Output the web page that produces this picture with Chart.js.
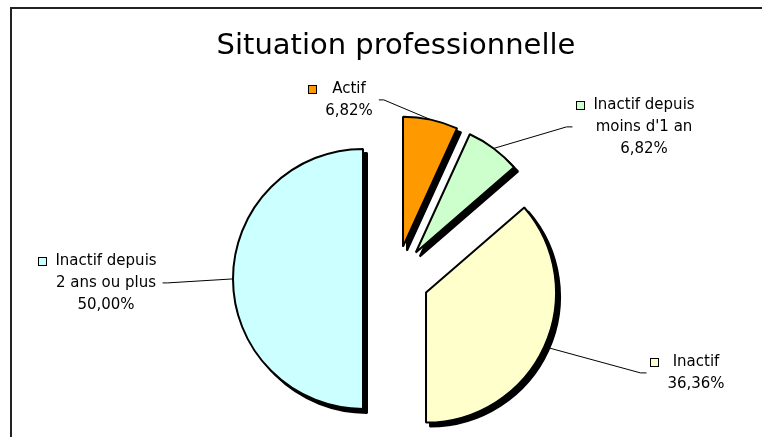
<!DOCTYPE html>
<html><head><meta charset="utf-8">
<script src="https://cdn.jsdelivr.net/npm/chart.js@4.4.1/dist/chart.umd.min.js"></script>
<style>html,body{margin:0;padding:0;background:#fff}#wrap{width:762px;height:437px;position:relative}</style>
</head><body><div id="wrap"><canvas id="c" width="762" height="437"></canvas></div>
<script>
// ---- data ----
const categories = [["Actif"], ["Inactif depuis", "moins d'1 an"], ["Inactif"], ["Inactif depuis", "2 ans ou plus"]];
const shares = [6.82, 6.82, 36.36, 50.00];
const sliceColors = ["#FF9900", "#CCFFCC", "#FFFFCC", "#CCFFFF"];
const titleText = "Situation professionnelle";

// ---- styling / layout ----
const EXPLODE = 33, SHADOW = 4, RADIUS = 130;
const LABEL_FONT = '15px "DejaVu Sans"';
const LINE_H = 22;
// label block centre relative to pie centre; side = where the label sits relative to the pie
const labelLayout = [
  {dx: -47, dy: -179, side: 'left'},
  {dx: 248, dy: -152, side: 'right'},
  {dx: 300, dy: 94, side: 'right'},
  {dx: -290, dy: 4, side: 'left'}
];
const fmt = v => v.toFixed(2).replace('.', ',') + '%';

const framePlugin = {
  id: 'frame',
  beforeDraw(chart) {
    const ctx = chart.ctx;
    ctx.save();
    ctx.fillStyle = '#fff';
    ctx.fillRect(0, 0, chart.width, chart.height);
    ctx.strokeStyle = '#222';
    ctx.lineWidth = 2;
    ctx.beginPath();
    ctx.moveTo(11, chart.height + 5);
    ctx.lineTo(11, 8);
    ctx.lineTo(chart.width + 5, 8);
    ctx.stroke();
    ctx.restore();
  }
};

const explodePlugin = {
  id: 'explodeShadow',
  beforeDatasetDraw(chart, args) {
    const ctx = chart.ctx;
    const els = args.meta.data;
    // shadow pass
    els.forEach(el => {
      const mid = (el.startAngle + el.endAngle) / 2;
      const orig = el.options;
      el.options = Object.assign({}, orig, {backgroundColor: '#000', borderColor: '#000'});
      ctx.save();
      ctx.translate(Math.cos(mid) * EXPLODE + SHADOW, Math.sin(mid) * EXPLODE + SHADOW);
      el.draw(ctx);
      ctx.restore();
      el.options = orig;
    });
    // slices
    els.forEach(el => {
      const mid = (el.startAngle + el.endAngle) / 2;
      ctx.save();
      ctx.translate(Math.cos(mid) * EXPLODE, Math.sin(mid) * EXPLODE);
      el.draw(ctx);
      ctx.restore();
    });
    return false;
  }
};

const labelPlugin = {
  id: 'sliceLabels',
  afterDraw(chart) {
    const ctx = chart.ctx;
    const meta = chart.getDatasetMeta(0);
    ctx.save();
    ctx.font = LABEL_FONT;
    meta.data.forEach((el, i) => {
      const lines = categories[i].concat([fmt(shares[i])]);
      const L = labelLayout[i];
      const tx = el.x + L.dx, ty = el.y + L.dy;
      const top = ty - (lines.length - 1) * LINE_H / 2;
      const widths = lines.map(s => ctx.measureText(s).width);
      const maxW = Math.max.apply(null, widths);
      ctx.fillStyle = '#000';
      ctx.textAlign = 'center';
      ctx.textBaseline = 'middle';
      lines.forEach((s, k) => ctx.fillText(s, tx, top + k * LINE_H));
      // legend key square
      const sq = 8;
      const sx = Math.round(tx - maxW / 2 - 9 - sq) + 0.5, sy = Math.round(top - sq / 2) + 0.5;
      ctx.fillStyle = sliceColors[i];
      ctx.fillRect(sx, sy, sq, sq);
      ctx.strokeStyle = '#000';
      ctx.lineWidth = 1;
      ctx.strokeRect(sx, sy, sq, sq);
      // leader line
      const mid = (el.startAngle + el.endAngle) / 2;
      const px = el.x + Math.cos(mid) * (EXPLODE + el.outerRadius);
      const py = el.y + Math.sin(mid) * (EXPLODE + el.outerRadius);
      let ax, bx;
      if (L.side === 'left') { ax = tx + maxW / 2 + 6; bx = ax + 5; }
      else { ax = sx - 4; bx = ax - 6; }
      ctx.beginPath();
      ctx.moveTo(ax, ty);
      ctx.lineTo(bx, ty);
      ctx.lineTo(px, py);
      ctx.strokeStyle = '#000';
      ctx.lineWidth = 1;
      ctx.stroke();
    });
    ctx.restore();
  }
};

new Chart(document.getElementById('c'), {
  type: 'pie',
  data: {
    labels: categories,
    datasets: [{
      data: shares,
      backgroundColor: sliceColors,
      borderColor: '#000',
      borderWidth: 2,
      offset: 0,
      radius: RADIUS
    }]
  },
  options: {
    responsive: false,
    animation: false,
    events: [],
    layout: {padding: {left: 30, right: 0, top: 0, bottom: 0}},
    plugins: {
      legend: {display: false},
      tooltip: {enabled: false},
      title: {
        display: true,
        text: titleText,
        color: '#000',
        font: {family: '"DejaVu Sans"', size: 29, weight: 'normal', lineHeight: 1.2},
        padding: {top: 29, bottom: 57}
      }
    }
  },
  plugins: [framePlugin, explodePlugin, labelPlugin]
});
</script>
</body></html>
